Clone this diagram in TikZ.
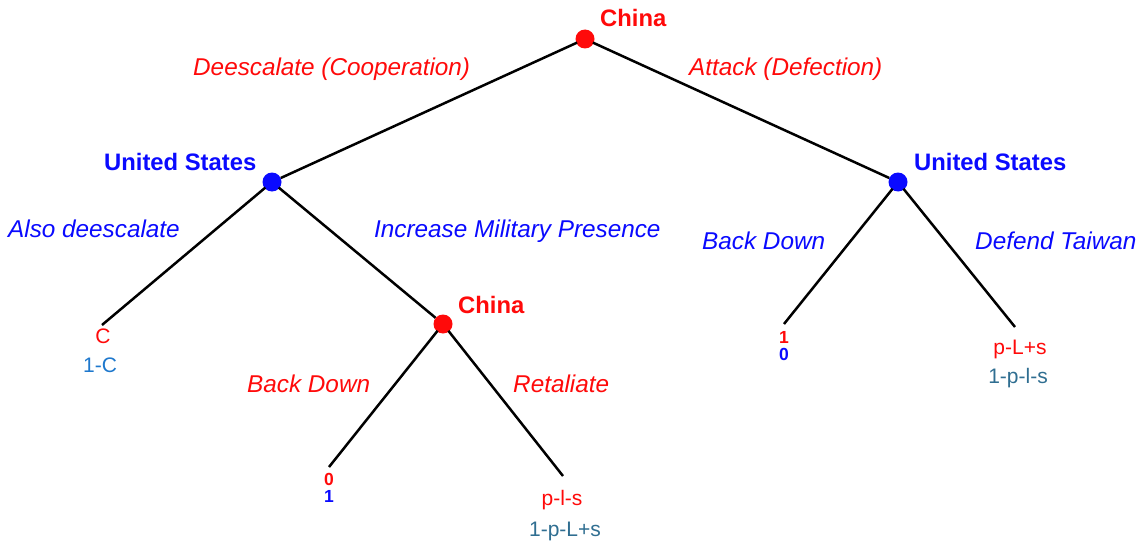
\documentclass[tikz,border=0pt]{standalone}
\usepackage{fontspec}
\setmainfont{Liberation Sans}
\definecolor{cnred}{RGB}{255,10,10}
\definecolor{usblue}{RGB}{10,10,255}
\definecolor{payblue}{RGB}{30,120,205}
\definecolor{payteal}{RGB}{47,110,145}
\begin{document}
\begin{tikzpicture}[x=1pt,y=-1pt,
  dot/.style={circle,inner sep=0pt,minimum size=19pt},
  branch/.style={line width=2.5pt,black,shorten <=-1pt},
  player/.style={font=\fontsize{23.8}{27}\selectfont\bfseries,inner sep=0pt,anchor=base west},
  move/.style={font=\fontsize{24.3}{28}\selectfont\itshape,inner sep=0pt,anchor=base west},
  pay/.style={font=\fontsize{21}{24}\selectfont,inner sep=0pt,anchor=base},
  num/.style={font=\fontsize{17.5}{20}\selectfont\bfseries,inner sep=0pt,anchor=base}]
\useasboundingbox[fill=white] (0,0) rectangle (1143,543);

% decision nodes
\node[dot,fill=cnred]  (c0)  at (585,39)  {};
\node[dot,fill=usblue] (us1) at (272,182) {};
\node[dot,fill=usblue] (us2) at (898,182) {};
\node[dot,fill=cnred]  (c1)  at (443,324) {};

% terminal points
\coordinate (tC)   at (102,325);
\coordinate (tBD1) at (329,467);
\coordinate (tRet) at (563,476);
\coordinate (tBD2) at (784,324);
\coordinate (tDef) at (1015,327);

% branches
\draw[branch] (c0) -- (us1);
\draw[branch] (c0) -- (us2);
\draw[branch] (us1) -- (tC);
\draw[branch] (us1) -- (c1);
\draw[branch] (c1) -- (tBD1);
\draw[branch] (c1) -- (tRet);
\draw[branch] (us2) -- (tBD2);
\draw[branch] (us2) -- (tDef);

% player names
\node[player,text=cnred]  (n0) at (600,27)  {China};
\node[player,text=usblue] (n1) at (104,170) {United States};
\node[player,text=usblue] (n2) at (914,170) {United States};
\node[player,text=cnred]  (n3) at (458,313) {China};

% moves
\node[move,text=cnred]  (m1) at (193,76)  {Deescalate (Cooperation)};
\node[move,text=cnred]  (m2) at (689,76)  {Attack (Defection)};
\node[move,text=usblue] (m3) at (8,237)   {Also deescalate};
\node[move,text=usblue] (m4) at (374,237) {Increase Military Presence};
\node[move,text=usblue] (m5) at (702,249) {Back Down};
\node[move,text=usblue] (m6) at (975,249) {Defend Taiwan};
\node[move,text=cnred]  (m7) at (247,392) {Back Down};
\node[move,text=cnred]  (m8) at (513,392) {Retaliate};

% payoffs
\node[pay,text=cnred]   (p1a) at (103,343) {C};
\node[pay,text=payblue] (p1b) at (100,372) {1-C};
\node[num,text=cnred]   (p2a) at (329,485) {0};
\node[num,text=usblue]  (p2b) at (329,502) {1};
\node[pay,text=cnred]   (p3a) at (562,505) {p-l-s};
\node[pay,text=payteal] (p3b) at (565,536) {1-p-L+s};
\node[num,text=cnred]   (p4a) at (784,343) {1};
\node[num,text=usblue]  (p4b) at (784,360) {0};
\node[pay,text=cnred]   (p5a) at (1020,354) {p-L+s};
\node[pay,text=payteal] (p5b) at (1018,383) {1-p-l-s};
\end{tikzpicture}
\end{document}
